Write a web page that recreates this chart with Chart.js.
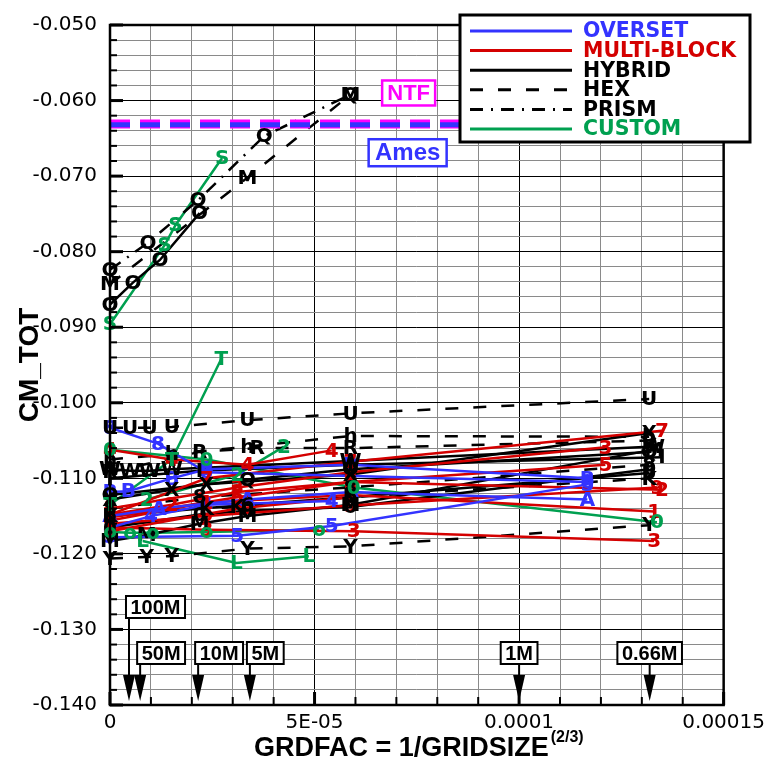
<!DOCTYPE html>
<html><head><meta charset="utf-8">
<script src="https://cdn.jsdelivr.net/npm/chart.js@4.4.0/dist/chart.umd.min.js"></script>
<style>html,body{margin:0;padding:0;background:#fff;}canvas{display:block;}</style>
</head><body>
<canvas id="c" width="771" height="764"></canvas>
<script>
// ---------- DATA ----------
const X_UNIT = 1e-5; // x values below are in units of 1e-5
const seriesGroup = [
  'HYBRID','PRISM','HEX','CUSTOM',
  'OVERSET','OVERSET','OVERSET','OVERSET','OVERSET',
  'MULTI-BLOCK','MULTI-BLOCK','MULTI-BLOCK','MULTI-BLOCK','MULTI-BLOCK','MULTI-BLOCK','MULTI-BLOCK','MULTI-BLOCK','MULTI-BLOCK',
  'HYBRID','HYBRID','HYBRID','HYBRID','HYBRID','HYBRID','HYBRID',
  'HEX','HEX','HEX','HEX','HEX','HEX',
  'CUSTOM','CUSTOM','CUSTOM','CUSTOM','CUSTOM'
];
const seriesMark = [
  'O','Q','M','S',
  '8','B','5','A','4',
  '7','4','3','5','9','1','3','6','2',
  'W','M','0','X','Q','6','I',
  'U','h','8','Y','K','R',
  'T','2','0','o','L'
];
const seriesX = [
  [0,0.56,1.22,2.19],[0,0.93,2.15,3.77,5.88],[0,3.36,5.88],[0,1.34,1.6,2.74],
  [0,1.17,2.36,11.67],[0,0.45,1.51,2.36,5.88,11.67],[0,3.11,5.42,11.67],[0,1.2,3.36,5.9,11.67],[0,1.0,2.36,5.42],
  [0,2.36,5.88,13.49],[0,1.51,3.36,5.42],[0,3.11,5.88,12.11],[0,3.11,5.88,12.11],[0,2.36,5.88,13.37],[0,2.36,5.88,13.3],[0,2.36,5.96,13.3],[0,3.11,5.88],[0,1.51,3.11,5.88,13.49],
  [0,0.49,0.97,1.51,5.88,13.3],[0,0.9,2.19,3.36,5.88,13.3],[0,2.19,3.36,5.88,13.18],[0,1.51,2.36,5.88,13.18],[0,3.36,5.88,13.18],[0,3.36,5.88,13.18],[0,2.19,5.88,13.49],
  [0,0.49,0.97,1.51,3.36,5.88,13.18],[0,1.51,3.36,5.88,13.18],[0,2.19,5.88,13.18],[0,0.9,1.51,3.36,5.88,13.18],[0,2.36,3.11,5.88,13.18],[0,2.19,3.6,5.88,13.18],
  [0,1.51,2.72],[0.9,3.11,4.25],[0,2.36,5.96,13.37],[0,0.49,1.05,2.36,5.11],[0.8,3.09,4.86]
];
const seriesY = [
  [-0.0870,-0.0841,-0.0811,-0.0749],[-0.0824,-0.0788,-0.0732,-0.0647,-0.0592],[-0.0843,-0.0702,-0.0592],[-0.0896,-0.0791,-0.0765,-0.0676],
  [-0.1033,-0.1054,-0.1092,-0.1105],[-0.1118,-0.1117,-0.1100,-0.1088,-0.1082,-0.1100],[-0.1178,-0.1176,-0.1163,-0.1108],[-0.1150,-0.1140,-0.1128,-0.1118,-0.1128],[-0.1165,-0.1150,-0.1135,-0.1130],
  [-0.1148,-0.1100,-0.1078,-0.1037],[-0.1062,-0.1075,-0.1082,-0.1063],[-0.1140,-0.1112,-0.1092,-0.1059],[-0.1152,-0.1125,-0.1105,-0.1082],[-0.1160,-0.1150,-0.1136,-0.1112],[-0.1156,-0.1132,-0.1122,-0.1144],[-0.1165,-0.1168,-0.1170,-0.1183],[-0.1170,-0.1140,-0.1125],[-0.1148,-0.1135,-0.1118,-0.1105,-0.1115],
  [-0.1088,-0.1090,-0.1090,-0.1088,-0.1077,-0.1058],[-0.1183,-0.1175,-0.1160,-0.1150,-0.1135,-0.1062],[-0.1165,-0.1148,-0.1143,-0.1138,-0.1088],[-0.1128,-0.1115,-0.1108,-0.1095,-0.1040],[-0.1122,-0.1102,-0.1088,-0.1065],[-0.1150,-0.1135,-0.1125,-0.1093],[-0.1100,-0.1090,-0.1082,-0.1072],
  [-0.1033,-0.1033,-0.1033,-0.1032,-0.1023,-0.1014,-0.0995],[-0.1075,-0.1068,-0.1058,-0.1044,-0.1045],[-0.1140,-0.1125,-0.1112,-0.1082],[-0.1206,-0.1204,-0.1203,-0.1193,-0.1190,-0.1162],[-0.1150,-0.1140,-0.1138,-0.1125,-0.1100],[-0.1092,-0.1065,-0.1060,-0.1060,-0.1050],
  [-0.1135,-0.1075,-0.0942],[-0.1128,-0.1095,-0.1058],[-0.1062,-0.1075,-0.1112,-0.1158],[-0.1171,-0.1172,-0.1172,-0.1171,-0.1168],[-0.1183,-0.1212,-0.1203]
];
const refLabels = ['NTF','Ames'];
const refValues = [-0.0631, -0.0632];
const gridSizeLabels = ['100M','50M','10M','5M','1M','0.66M'];
const gridSizes = [100e6, 50e6, 10e6, 5e6, 1e6, 0.66e6];
const legendLabels = ['OVERSET','MULTI-BLOCK','HYBRID','HEX','PRISM','CUSTOM'];
const xTickLabels = {0:'0', 5:'5E-05', 10:'0.0001', 15:'0.00015'};

// ---------- STYLE ----------
const BLUE='#3333ff', RED='#d40000', GREEN='#00a050', BLACK='#000', MAGENTA='#ff00ff';
const groupStyle = {
  'OVERSET':{color:BLUE, dash:[]},
  'MULTI-BLOCK':{color:RED, dash:[]},
  'HYBRID':{color:BLACK, dash:[]},
  'HEX':{color:BLACK, dash:[13,15]},
  'PRISM':{color:BLACK, dash:[13,8,2,8]},
  'CUSTOM':{color:GREEN, dash:[]}
};
const refStyle = [{color:MAGENTA,width:9},{color:BLUE,width:5}];
const gridBoxAlign = ['left','left','left','left','center','center'];
const gridBoxTop = [596,642,642,642,642,642];

const datasets = [];
refValues.forEach((v,i)=>{
  datasets.push({data:[{x:0,y:v},{x:1.5e-4,y:v}], borderColor:refStyle[i].color, borderWidth:refStyle[i].width,
    borderDash:[20,10], pointRadius:0, showLine:true, order: 1-i, borderCapStyle:'butt'});
});
seriesX.forEach((xs,i)=>{
  const st = groupStyle[seriesGroup[i]];
  datasets.push({data: xs.map((x,j)=>({x:x*X_UNIT, y:seriesY[i][j]})), borderColor:st.color, borderDash:st.dash,
    borderWidth:2.5, pointRadius:0, showLine:true, order: 5+i, mark: seriesMark[i]});
});

const isMajorY = v => Math.abs(v/0.01 - Math.round(v/0.01)) < 1e-6;
const isMajorX = v => Math.abs(v/5e-5 - Math.round(v/5e-5)) < 1e-6;

const annotPlugin = {
  id:'annot',
  afterDatasetsDraw(chart){
    const {ctx, scales:{x,y}} = chart;
    ctx.save();
    ctx.font = 'bold 20px "DejaVu Sans", sans-serif';
    ctx.textAlign='center'; ctx.textBaseline='middle';
    chart.data.datasets.forEach(ds=>{
      if(!ds.mark) return;
      ctx.fillStyle = ds.borderColor;
      ds.data.forEach(p=>{ ctx.fillText(ds.mark, x.getPixelForValue(p.x), y.getPixelForValue(p.y)+1); });
    });
    ctx.restore();
  },
  afterDraw(chart){
    const {ctx, chartArea:{left,right,top,bottom}, scales:{x,y}} = chart;
    ctx.save();
    // frame
    ctx.strokeStyle='#000'; ctx.lineWidth=2.5;
    ctx.strokeRect(left,top,right-left,bottom-top);
    // y ticks
    y.ticks.forEach(t=>{
      const py = y.getPixelForValue(t.value); const mj = isMajorY(t.value);
      ctx.lineWidth = mj?3:2; ctx.beginPath(); ctx.moveTo(left,py); ctx.lineTo(left+(mj?13:7),py); ctx.stroke();
    });
    x.ticks.forEach(t=>{
      const px = x.getPixelForValue(t.value); const mj = isMajorX(t.value);
      ctx.lineWidth = mj?3:2; ctx.beginPath(); ctx.moveTo(px,bottom); ctx.lineTo(px,bottom-(mj?13:8)); ctx.stroke();
    });
    // ref labels
    const refBox = (txt, color, cx, cy, font, w, h)=>{
      ctx.font = font; ctx.fillStyle='#fff'; ctx.fillRect(cx-w/2,cy-h/2,w,h);
      ctx.strokeStyle=color; ctx.lineWidth=2.5; ctx.strokeRect(cx-w/2,cy-h/2,w,h);
      ctx.fillStyle=color; ctx.textAlign='center'; ctx.textBaseline='middle'; ctx.fillText(txt,cx,cy+1);
    };
    const rx = x.getPixelForValue(7.3e-5);
    refBox(refLabels[0], MAGENTA, rx, y.getPixelForValue(refValues[0])-31, 'bold 22px "Liberation Sans", Arial', 53, 25);
    refBox(refLabels[1], BLUE, rx-1, y.getPixelForValue(refValues[1])+28, 'bold 24px "Liberation Sans", Arial', 78, 27);
    // grid size arrows
    gridSizes.forEach((n,i)=>{
      const gx = x.getPixelForValue(1/Math.pow(n,2/3));
      ctx.font='bold 20px "Liberation Sans", Arial';
      const tw = ctx.measureText(gridSizeLabels[i]).width + 9;
      const bx = gridBoxAlign[i]==='left' ? gx-3 : gx - tw/2;
      const by = gridBoxTop[i], bh = 22;
      ctx.strokeStyle='#000'; ctx.fillStyle='#000'; ctx.lineWidth=2;
      ctx.beginPath(); ctx.moveTo(gx,by+bh); ctx.lineTo(gx,bottom-28); ctx.stroke();
      ctx.beginPath(); ctx.moveTo(gx-6,bottom-30); ctx.lineTo(gx+6,bottom-30); ctx.lineTo(gx,bottom-4); ctx.closePath(); ctx.fill();
      ctx.fillStyle='#fff'; ctx.fillRect(bx,by,tw,bh);
      ctx.strokeRect(bx,by,tw,bh);
      ctx.fillStyle='#000'; ctx.textAlign='left'; ctx.textBaseline='middle';
      ctx.fillText(gridSizeLabels[i], bx+4.5, by+bh/2+1);
    });
    // legend
    const L=460, T=15, W=290, H=127;
    ctx.fillStyle='#fff'; ctx.fillRect(L,T,W,H);
    ctx.strokeStyle='#000'; ctx.lineWidth=3; ctx.strokeRect(L,T,W,H);
    ctx.font='bold 20.5px "DejaVu Sans", sans-serif'; ctx.textBaseline='middle'; ctx.textAlign='left';
    legendLabels.forEach((lab,i)=>{
      const st = groupStyle[lab]; const ly = T+16+i*19.6;
      ctx.strokeStyle = st.color; ctx.lineWidth=3; ctx.setLineDash(st.dash);
      ctx.beginPath(); ctx.moveTo(L+10,ly); ctx.lineTo(L+112,ly); ctx.stroke(); ctx.setLineDash([]);
      ctx.fillStyle = st.color; ctx.fillText(lab, L+123, ly+1);
    });
    // axis titles
    ctx.fillStyle='#000';
    ctx.save(); ctx.translate(30, 365); ctx.rotate(-Math.PI/2);
    ctx.font='bold 28px "Liberation Sans", Arial'; ctx.textAlign='center'; ctx.textBaseline='middle';
    ctx.fillText('CM_TOT',0,0); ctx.restore();
    ctx.font='bold 27px "Liberation Sans", Arial'; ctx.textAlign='left'; ctx.textBaseline='alphabetic';
    const main='GRDFAC = 1/GRIDSIZE'; const mw = ctx.measureText(main).width;
    ctx.font='bold 16px "Liberation Sans", Arial'; const sw = ctx.measureText('(2/3)').width;
    const sx = (left+right)/2 - (mw+sw+2)/2 + 2;
    ctx.font='bold 27px "Liberation Sans", Arial'; ctx.fillText(main, sx, 756);
    ctx.font='bold 16px "Liberation Sans", Arial'; ctx.fillText('(2/3)', sx+mw+2, 742);
    ctx.restore();
  }
};

new Chart(document.getElementById('c'), {
  type:'scatter',
  data:{datasets},
  options:{
    responsive:false, animation:false, events:[],
    layout:{padding:{top:18,right:46,left:0,bottom:0}},
    plugins:{legend:{display:false}, tooltip:{enabled:false}},
    scales:{
      x:{type:'linear', min:0, max:1.5e-4,
        afterFit:s=>{s.height=59;},
        border:{display:false},
        grid:{color:c=>isMajorX(c.tick.value)?'#000':'#8a8a8a', lineWidth:1, drawTicks:false},
        ticks:{stepSize:1e-5, autoSkip:false, maxRotation:0, padding:6, color:'#000',
          font:{family:'"DejaVu Sans"', size:20},
          callback:v=>{const k=Math.round(v/1e-5); return (Math.abs(v/1e-5-k)<1e-6 && xTickLabels[k]!==undefined)?xTickLabels[k]:'';}}
      },
      y:{type:'linear', min:-0.14, max:-0.05,
        afterFit:s=>{s.width=110;},
        border:{display:false},
        grid:{color:c=>isMajorY(c.tick.value)?'#000':'#8a8a8a', lineWidth:1, drawTicks:false},
        ticks:{stepSize:0.002, autoSkip:false, padding:13, color:'#000',
          font:{family:'"DejaVu Sans"', size:20},
          callback:v=> isMajorY(v) ? v.toFixed(3) : ''}
      }
    }
  },
  plugins:[annotPlugin]
});
</script>
</body></html>
